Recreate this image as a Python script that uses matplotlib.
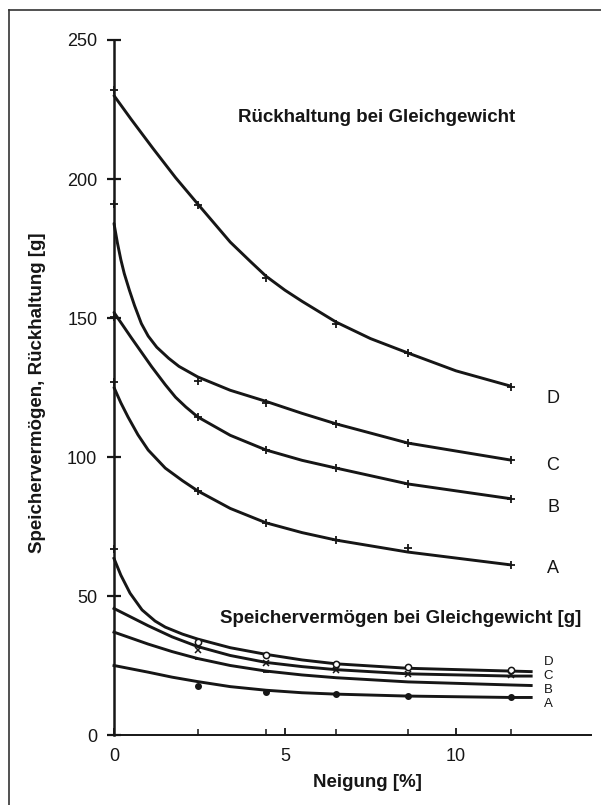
import matplotlib
matplotlib.use('Agg')
import matplotlib.pyplot as plt
from matplotlib.lines import Line2D

plt.rcParams['font.family'] = ['Liberation Sans', 'DejaVu Sans']

# slope positions of the measurements [%]
neigung = [0, 2.45, 4.45, 6.5, 8.6, 11.6]

# Rückhaltung bei Gleichgewicht [g] - measured points (+)
rueck_A = [127, 87.8, 76.3, 70.1, 67.2, 61.2]
rueck_B = [150.5, 114.4, 102.5, 96, 90.3, 85]
rueck_C = [191, 127.5, 119.5, 111.9, 105, 98.9]
rueck_D = [232, 190.5, 164.5, 148, 137.4, 125]

# fitted curves as drawn in the figure
rueck_A_x = [0, 0.2, 0.41, 0.7, 1.0, 1.5, 2.0, 2.45, 3.4, 4.45, 5.5, 6.5, 8.6, 11.6]
rueck_A_y = [125, 119.5, 114.4, 108, 102.5, 96, 91.5, 87.8, 81.5, 76.3, 72.8, 70.1, 65.8, 61.2]
rueck_B_x = [0, 0.5, 1.1, 1.5, 1.8, 2.1, 2.45, 3.4, 4.45, 5.5, 6.5, 8.6, 11.6]
rueck_B_y = [152, 143, 132.5, 126, 121.5, 118, 114.4, 107.8, 102.5, 98.8, 96, 90.3, 85]
rueck_C_x = [0, 0.1, 0.2, 0.3, 0.45, 0.6, 0.8, 1.0, 1.25, 1.6, 1.9, 2.45, 3.4, 4.45,
             5.5, 6.5, 8.6, 11.6]
rueck_C_y = [184, 177, 171, 166, 160, 154.5, 148, 143.5, 139.5, 135.5, 132.6, 128.8,
             124, 120, 115.7, 111.9, 105, 98.9]
rueck_D_x = [0, 0.5, 1.14, 1.8, 2.45, 3.4, 4.0, 4.45, 5.0, 5.5, 6.5, 7.5, 8.6, 10, 11.6]
rueck_D_y = [230, 221.5, 211, 200.5, 191, 177.3, 170.2, 165, 160, 156, 148.5, 142.6,
             137.4, 131, 125.5]

# Speichervermögen bei Gleichgewicht [g]
speicher_x = [2.45, 4.45, 6.5, 8.6, 11.6]
speicher_A = [17.5, 15.5, 14.6, 13.9, 13.5]
speicher_B = [27.3, 22.7, 20.5, 19, 18]
speicher_C = [30.5, 26, 23.5, 22, 21.5]
speicher_D = [33.5, 28.8, 25.5, 24.3, 23.3]
speicher_D_start = 67

speicher_D_x = [0, 0.2, 0.47, 0.82, 1.2, 1.5, 2.0, 2.45, 3.4, 4.45, 5.5, 6.5, 8.6, 11.6, 12.2]
speicher_D_y = [63.5, 57.5, 51, 45, 41, 38.8, 36.3, 34.5, 31.4, 29, 27, 25.6, 24, 23, 22.8]
speicher_line_x = [0, 1, 1.7, 2.45, 3.4, 4.45, 5.5, 6.5, 8.6, 11.6, 12.2]
speicher_C_y = [45.5, 39.3, 35.3, 31.8, 28.6, 26.1, 24.6, 23.5, 22, 21.2, 21.2]
speicher_B_y = [37, 32.7, 30, 27.5, 25, 23, 21.6, 20.6, 19.1, 18, 17.8]
speicher_A_y = [25, 22.6, 20.8, 19.2, 17.4, 16.1, 15.2, 14.7, 14, 13.5, 13.5]

labels = ['A', 'B', 'C', 'D']
rueck_label_y = [60, 82, 96.8, 121]
speicher_label_y = [11.2, 16.2, 21.2, 26.3]

fig = plt.figure(figsize=(6.01, 8.05), dpi=100)
ax = fig.add_axes([114 / 601, 70 / 805, 477 / 601, 695 / 805])

ink = '#161616'
lw = 2.1
# upper group
for xs, ys in [(rueck_A_x, rueck_A_y), (rueck_B_x, rueck_B_y),
               (rueck_C_x, rueck_C_y), (rueck_D_x, rueck_D_y)]:
    ax.plot(xs, ys, color=ink, lw=lw, solid_capstyle='round', solid_joinstyle='round',
            clip_on=False)
for ys in [rueck_A, rueck_B, rueck_C, rueck_D]:
    ax.plot(neigung, ys, ls='none', marker='+', ms=5.5, mew=1.3, color=ink, clip_on=False)

# lower group
ax.plot(speicher_D_x, speicher_D_y, color=ink, lw=lw, solid_joinstyle='round', clip_on=False)
for ys in [speicher_C_y, speicher_B_y, speicher_A_y]:
    ax.plot(speicher_line_x, ys, color=ink, lw=lw, solid_joinstyle='round', clip_on=False)
ax.plot([0], [speicher_D_start], ls='none', marker='+', ms=5.5, mew=1.3, color=ink, clip_on=False)
ax.plot(speicher_x, speicher_D, ls='none', marker='o', ms=4.5, mfc='white', mec=ink, mew=1.1)
ax.plot(speicher_x, speicher_C, ls='none', marker='x', ms=4, mew=1.1, color=ink)
ax.plot(speicher_x, speicher_B, ls='none', marker='_', ms=5, mew=1.3, color=ink)
ax.plot(speicher_x, speicher_A, ls='none', marker='o', ms=4, color=ink)

for lab, y in zip(labels, rueck_label_y):
    ax.text(12.84, y, lab, fontsize=13, ha='center', va='center', color=ink)
for lab, y in zip(labels, speicher_label_y):
    ax.text(12.7, y, lab, fontsize=9.5, ha='center', va='center', color=ink)

ax.text(7.69, 222, 'Rückhaltung bei Gleichgewicht', fontsize=13.5, fontweight='bold',
        ha='center', va='center', color=ink)
ax.text(8.39, 42, 'Speichervermögen bei Gleichgewicht [g]', fontsize=13.5, fontweight='bold',
        ha='center', va='center', color=ink)

ax.set_xlim(0, 13.95)
ax.set_ylim(0, 250)
ax.set_yticks([0, 50, 100, 150, 200, 250])
ax.set_xticks([0, 5, 10])
ax.set_xticks(neigung[1:], minor=True)
ax.tick_params(axis='y', direction='inout', length=10, width=1.6, labelsize=13, pad=7,
               color=ink, labelcolor=ink)
ax.tick_params(axis='x', which='major', direction='in', length=5, width=1.3, labelsize=13, pad=9,
               color=ink, labelcolor=ink)
ax.tick_params(axis='x', which='minor', direction='in', length=4.5, width=1.1, color=ink)
for side in ['top', 'right']:
    ax.spines[side].set_visible(False)
ax.spines['left'].set_linewidth(1.8)
ax.spines['bottom'].set_linewidth(1.4)
ax.spines['left'].set_color(ink)
ax.spines['bottom'].set_color(ink)

ax.set_ylabel('Speichervermögen, Rückhaltung [g]', fontsize=13.5, fontweight='bold', color=ink)
ax.yaxis.set_label_coords(-68 / 477, (735 - 393) / 695)
fig.text(367 / 601, 1 - 782 / 805, 'Neigung [%]', fontsize=13.5, fontweight='bold',
         ha='center', va='center', color=ink)

# border around the figure
fig.add_artist(Line2D([9 / 601, 1], [1 - 10 / 805, 1 - 10 / 805], color='#333333', lw=1.2))
fig.add_artist(Line2D([9 / 601, 9 / 601], [0, 1 - 10 / 805], color='#333333', lw=1.2))

fig.savefig('out.png', dpi=100)
